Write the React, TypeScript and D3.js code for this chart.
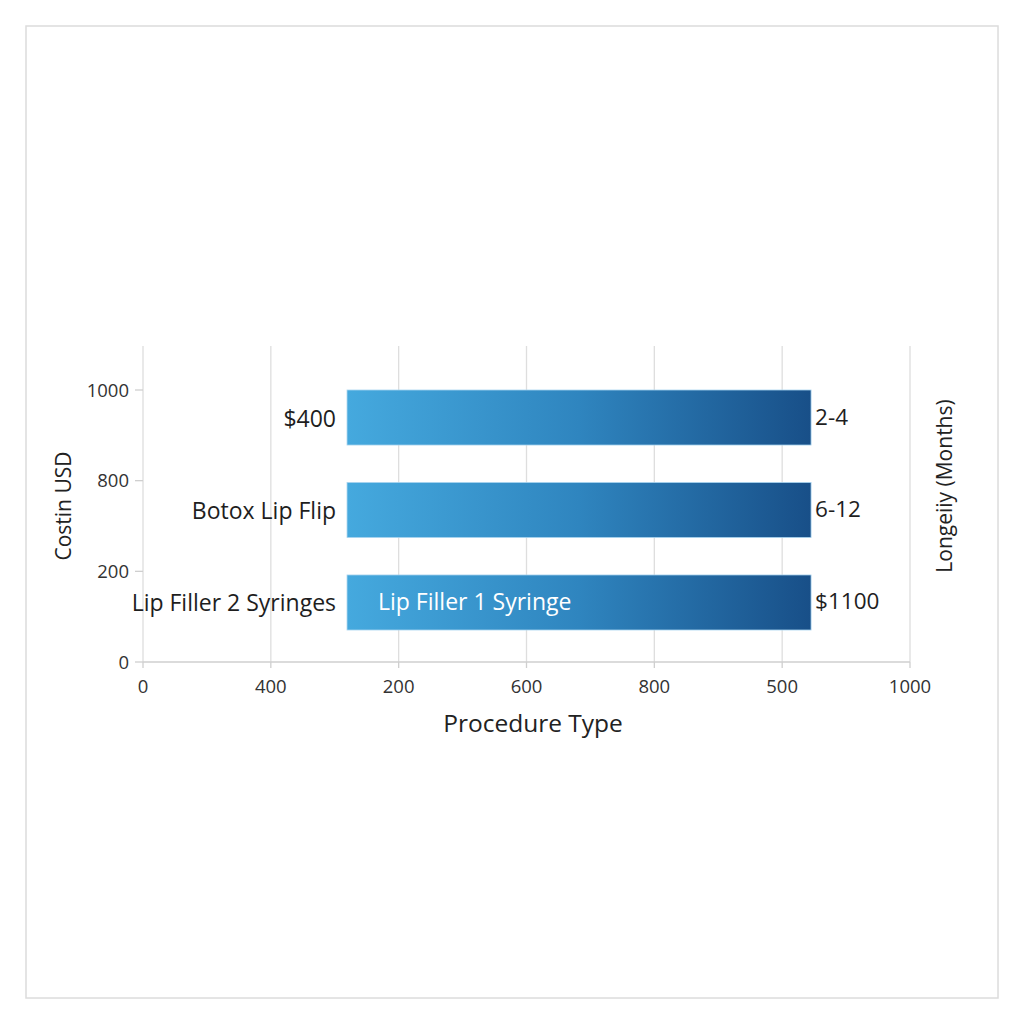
import React from "react";
import * as d3 from "d3";

const xTickLabels = ["0", "400", "200", "600", "800", "500", "1000"];
const yTickLabels = ["1000", "800", "200", "0"];
const barCategories = ["$400", "Botox Lip Flip", "Lip Filler 2 Syringes"];
const barStart = [266, 266, 266];
const barEnd = [871, 871, 871];
const rightLabels = ["2-4", "6-12", "$1100"];
const insideLabels = ["", "", "Lip Filler 1 Syringe"];

const FONT = "'Open Sans', 'Noto Sans', sans-serif";

export default function App() {
  const W = 1024, H = 1024;
  const left = 143, right = 910, top = 346, bottom = 662;
  const x = d3.scaleLinear().domain([0, 1000]).range([left, right]);
  const xTick = d3.scalePoint<string>().domain(xTickLabels).range([left, right]);
  const yTick = d3.scalePoint<string>().domain(yTickLabels).range([390, bottom]);
  const yBand = d3.scaleBand<string>().domain(barCategories).range([390, 630]).paddingInner(0.405).paddingOuter(0);
  const bw = yBand.bandwidth();

  return (
    <div style={{ position: "absolute", left: 0, top: 0 }}>
      <svg width={W} height={H} style={{ display: "block", background: "#fff" }} fontFamily={FONT}>
        <defs>
          <linearGradient id="barGrad" x1="0" y1="0" x2="1" y2="0">
            <stop offset="0%" stopColor="#45a9de" />
            <stop offset="50%" stopColor="#2f85bf" />
            <stop offset="100%" stopColor="#184f88" />
          </linearGradient>
        </defs>
        <rect x={26} y={26} width={972} height={972} fill="#fff" stroke="#dcdcdc" strokeWidth={1.5} />
        {xTickLabels.map((t, i) => (
          <line key={"g" + i} x1={xTick(t)} x2={xTick(t)} y1={top} y2={bottom} stroke="#dedede" strokeWidth={1.3} />
        ))}
        <line x1={left} x2={right} y1={bottom} y2={bottom} stroke="#cfcfcf" strokeWidth={1.5} />
        {xTickLabels.map((t, i) => (
          <g key={"xt" + i}>
            <line x1={xTick(t)} x2={xTick(t)} y1={bottom} y2={bottom + 6} stroke="#cfcfcf" strokeWidth={1.3} />
            <text x={xTick(t)} y={bottom + 31} textAnchor="middle" fontSize={18.5} fill="#333">{t}</text>
          </g>
        ))}
        {yTickLabels.map((t, i) => (
          <g key={"yt" + i}>
            <line x1={left - 8} x2={left} y1={yTick(t)} y2={yTick(t)} stroke="#cfcfcf" strokeWidth={1.3} />
            <text x={left - 14} y={(yTick(t) as number) + 6.5} textAnchor="end" fontSize={18.5} fill="#333">{t}</text>
          </g>
        ))}
        {barCategories.map((c, i) => {
          const y0 = yBand(c) as number;
          const x0 = x(barStart[i]);
          const x1 = x(barEnd[i]);
          return (
            <g key={"b" + i}>
              <rect x={x0} y={y0} width={x1 - x0} height={bw} fill="url(#barGrad)" stroke="#a9d4ef" strokeWidth={0.8} />
              <text x={x0 - 11} y={y0 + bw / 2 + 9} textAnchor="end" fontSize={23} fill="#1e1e1e">{c}</text>
              <text x={x1 + 4} y={y0 + bw / 2 + 7} textAnchor="start" fontSize={22.5} fill="#1e1e1e">{rightLabels[i]}</text>
              {insideLabels[i] && (
                <text x={x0 + 31} y={y0 + bw / 2 + 8} textAnchor="start" fontSize={23} fill="#fff">{insideLabels[i]}</text>
              )}
            </g>
          );
        })}
        <text x={533} y={732} textAnchor="middle" fontSize={24.5} fill="#222">Procedure Type</text>
        <text transform={`translate(71, 506) rotate(-90)`} textAnchor="middle" fontSize={21} fill="#222">Costin USD</text>
        <text transform={`translate(952, 486) rotate(-90)`} textAnchor="middle" fontSize={21} fill="#222">Longeiiy (Months)</text>
      </svg>
    </div>
  );
}
